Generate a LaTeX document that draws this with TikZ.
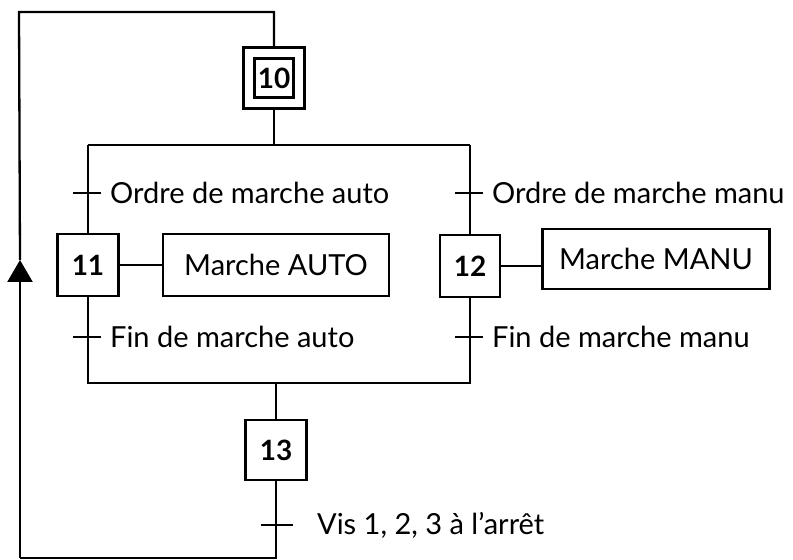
\documentclass[tikz,border=0pt]{standalone}
\usepackage{fontspec}
\setmainfont{Lato}
\usetikzlibrary{calc,positioning,arrows.meta}

\begin{document}
\begin{tikzpicture}[x=0.5pt, y=-0.5pt, line width=1.15pt, font=\fontsize{14.5}{16}\selectfont]
					\useasboundingbox (0,0) rectangle (793,560);
					% etapes
					\node[draw, minimum width=30.5pt, minimum height=30.5pt] (s10out) at (274,78) {};
					\node[draw, minimum size=19.5pt, inner sep=0pt, font=\fontsize{14}{15}\selectfont\bfseries] (s10) at (274,78) {10};
					\node[draw, minimum width=30.5pt, minimum height=31pt, font=\fontsize{14}{15}\selectfont\bfseries] (s11) at (88,265) {11};
					\node[draw, minimum width=30pt, minimum height=31pt, font=\fontsize{14}{15}\selectfont\bfseries] (s12) at (470,266) {12};
					\node[draw, minimum width=30.5pt, minimum height=30pt, font=\fontsize{14}{15}\selectfont\bfseries] (s13) at (276,450) {13};
					% actions
					\node[draw, minimum width=113pt, minimum height=31pt] (a11) at (276,265) {Marche AUTO};
					\node[draw, minimum width=113.5pt, minimum height=30pt] (a12) at (656,259) {Marche MANU};

					\coordinate (top) at (274,12);
					\coordinate (tl) at (19,12);
					\coordinate (arr) at (20,260);
					\coordinate (bl) at (20,558);
					\coordinate (br) at (276,558);
					\coordinate (div) at (274,145);
					\coordinate (divA) at (88,145);
					\coordinate (divB) at (470,145);
					\coordinate (join) at (276,383);
					\coordinate (joinA) at (88,383);
					\coordinate (joinB) at (470,383);

					\draw (s10out) -- (top) -- (tl) -- (arr);
					\draw [-{Triangle[length=11pt, width=12.5pt]}] (bl) -- (arr);
					\draw (s10out) -- (div);
					\draw (divA) -- (divB);
					\draw (divA) -- (s11);
					\draw (divB) -- (s12);
					\draw (s11) -- (joinA) -- (joinB) -- (s12);
					\draw (s11) -- (a11);
					\draw (s12.east) -- (s12.east -| a12.west);
					\draw (join) -- (s13);
					\draw (s13) -- (br) -- (bl);

					% receptivites
					\foreach \n/\x/\y/\txt in {t1/88/193/Ordre de marche auto, t2/470/193/Ordre de marche manu, t3/88/337/Fin de marche auto, t4/470/337/Fin de marche manu}{
						\draw ({\x-15},\y) -- ({\x+13},\y);
						\node[anchor=west, inner sep=0pt] (\n) at ({\x+21},\y) {\txt};
					}
					\draw (261,525) -- (293,525);
					\node[anchor=west, inner sep=0pt] (t5) at (316,525) {Vis 1, 2, 3 à l'arrêt};
				\end{tikzpicture}
\end{document}
